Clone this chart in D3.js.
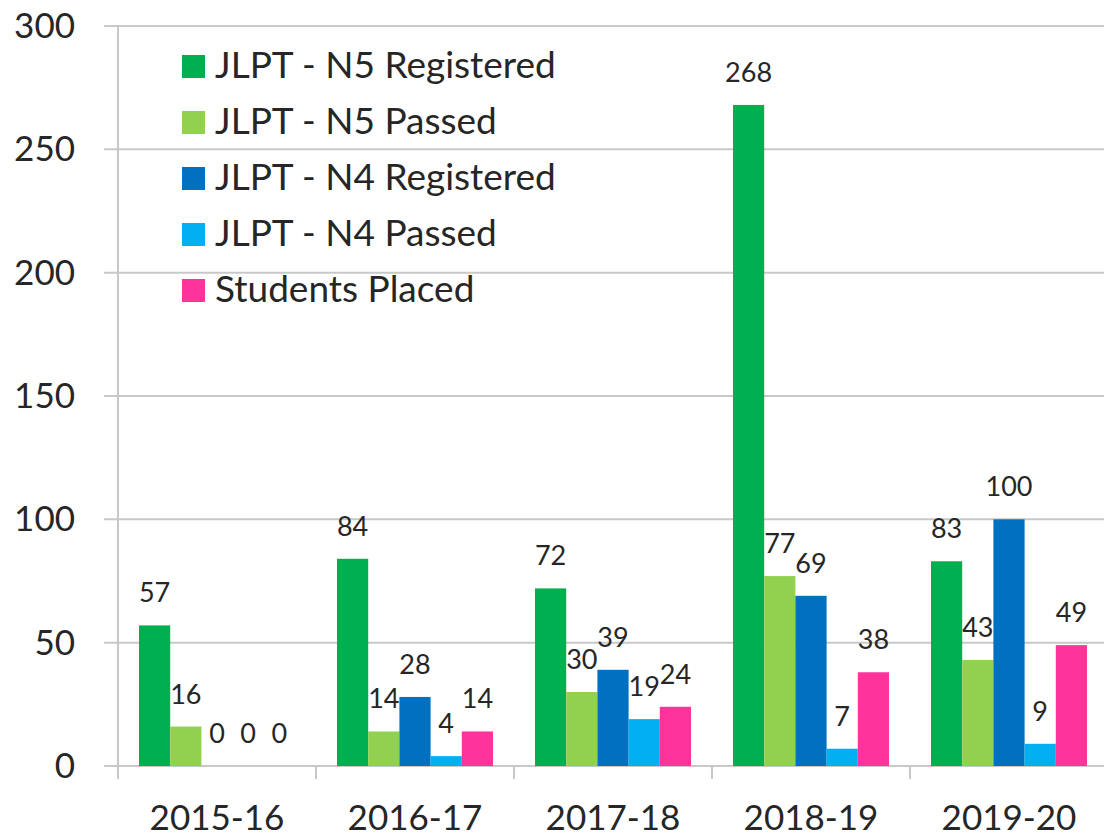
<!DOCTYPE html>
<html><head><meta charset="utf-8">
<script src="https://cdn.jsdelivr.net/npm/d3@7"></script>
<style>body{margin:0;background:#fff;} svg{display:block;}</style>
</head><body>
<svg id="chart" width="1104" height="839"></svg>
<script>
const categories = ["2015-16","2016-17","2017-18","2018-19","2019-20"];
const seriesNames = ["JLPT - N5 Registered","JLPT - N5 Passed","JLPT - N4 Registered","JLPT - N4 Passed","Students Placed"];
const seriesColors = ["#00B050","#92D050","#0070C0","#00B0F0","#FF3399"];
const n5Registered = [57,84,72,268,83];
const n5Passed = [16,14,30,77,43];
const n4Registered = [0,28,39,69,100];
const n4Passed = [0,4,19,7,9];
const studentsPlaced = [0,14,24,38,49];
const yTicks = [0,50,100,150,200,250,300];

const seriesValues = [n5Registered,n5Passed,n4Registered,n4Passed,studentsPlaced];
const svg = d3.select("#chart");
const font = "Lato, 'Open Sans', sans-serif";
const textColor = "#262626";

const y = d3.scaleLinear().domain([0,300]).range([766,26]);
const x = d3.scaleBand().domain(categories).range([118,1108]);
const xi = d3.scaleBand().domain(seriesNames).range([21,177]);

// gridlines
svg.append("g").selectAll("line").data(yTicks).join("line")
  .attr("x1",104).attr("x2",1104)
  .attr("y1",d=>y(d)).attr("y2",d=>y(d))
  .attr("stroke","#c8c8c8").attr("stroke-width",2);

// y axis line
svg.append("line").attr("x1",118).attr("x2",118).attr("y1",y(300)).attr("y2",779)
  .attr("stroke","#c8c8c8").attr("stroke-width",2);

// x ticks at band boundaries
const bounds = categories.map(c=>x(c)).slice(1);
svg.append("g").selectAll("line").data(bounds).join("line")
  .attr("x1",d=>d).attr("x2",d=>d).attr("y1",766).attr("y2",779)
  .attr("stroke","#c8c8c8").attr("stroke-width",2);

// y tick labels
svg.append("g").selectAll("text").data(yTicks).join("text")
  .attr("x",75).attr("y",d=>y(d)+12)
  .attr("text-anchor","end").attr("font-family",font).attr("font-size",35)
  .attr("fill",textColor).text(d=>d);

// x labels
svg.append("g").selectAll("text").data(categories).join("text")
  .attr("x",d=>x(d)+x.bandwidth()/2).attr("y",830)
  .attr("text-anchor","middle").attr("font-family",font).attr("font-size",35)
  .attr("fill",textColor).text(d=>d);

// bars
const flat = [];
categories.forEach((c,ci)=>seriesNames.forEach((s,si)=>flat.push({c,s,si,v:seriesValues[si][ci]})));
svg.append("g").selectAll("rect").data(flat).join("rect")
  .attr("x",d=>x(d.c)+xi(d.s)).attr("width",xi.bandwidth())
  .attr("y",d=>y(d.v)).attr("height",d=>y(0)-y(d.v))
  .attr("fill",d=>seriesColors[d.si]);

// data labels
svg.append("g").selectAll("text").data(flat).join("text")
  .attr("x",d=>x(d.c)+xi(d.s)+xi.bandwidth()/2).attr("y",d=>y(d.v)-23)
  .attr("text-anchor","middle").attr("font-family",font).attr("font-size",27)
  .attr("fill",textColor).text(d=>d.v);

// legend
const lg = svg.append("g").selectAll("g").data(seriesNames).join("g")
  .attr("transform",(d,i)=>`translate(182,${78+i*56})`);
lg.append("rect").attr("x",0).attr("y",-23).attr("width",23).attr("height",23)
  .attr("fill",(d,i)=>seriesColors[i]);
lg.append("text").attr("x",33).attr("y",0).attr("font-family",font).attr("font-size",37)
  .attr("fill",textColor).text(d=>d);
</script>
</body></html>
